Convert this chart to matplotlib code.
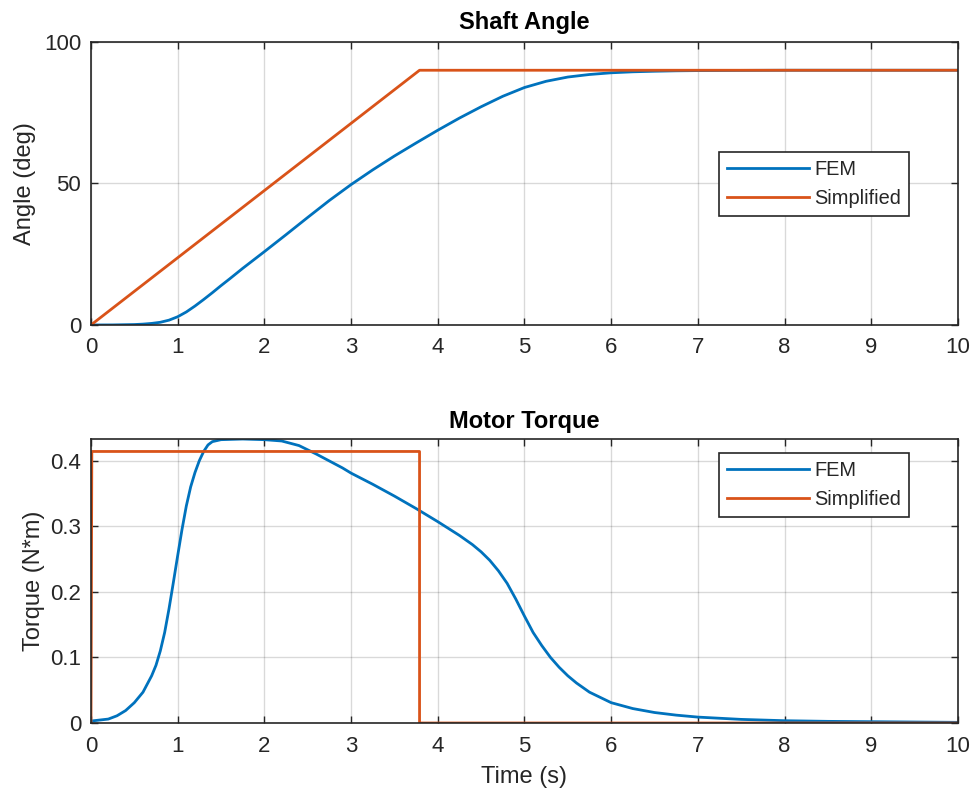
import matplotlib
matplotlib.use("Agg")
import matplotlib.pyplot as plt

# shaft angle (deg)
t_angle_fem = [0, 0.25, 0.5, 0.6, 0.7, 0.8, 0.9, 1.0, 1.1, 1.2, 1.3, 1.4, 1.5,
               1.6, 1.75, 2.0, 2.25, 2.5, 2.75, 3.0, 3.25, 3.5, 3.75, 4.0, 4.25,
               4.5, 4.75, 5.0, 5.25, 5.5, 5.75, 6.0, 6.25, 6.5, 6.75, 7.0, 7.5,
               8.0, 9.0, 10.0]
angle_fem = [0, 0.02, 0.15, 0.3, 0.55, 0.95, 1.7, 2.9, 4.6, 6.7, 9.0, 11.4, 13.9,
             16.3, 20.0, 25.9, 31.9, 38.0, 44.0, 49.6, 54.8, 59.7, 64.3, 68.8, 73.1,
             77.1, 80.8, 83.9, 86.1, 87.6, 88.5, 89.1, 89.45, 89.65, 89.8, 89.88,
             89.95, 90.0, 90.0, 90.0]
t_angle_simp = [0, 3.79, 10]
angle_simp = [0, 90, 90]

# motor torque (N*m)
t_torque_fem = [0, 0.2, 0.3, 0.4, 0.5, 0.6, 0.7, 0.75, 0.8, 0.85, 0.9, 0.95, 1.0,
                1.05, 1.1, 1.15, 1.2, 1.25, 1.3, 1.35, 1.4, 1.5, 1.75, 2.0, 2.2,
                2.4, 2.6, 2.9, 3.0, 3.25, 3.5, 3.75, 4.0, 4.25, 4.4, 4.5, 4.6, 4.7,
                4.8, 4.9, 5.0, 5.1, 5.2, 5.3, 5.4, 5.5, 5.6, 5.75, 6.0, 6.25, 6.5,
                6.75, 7.0, 7.5, 8.0, 8.5, 9.0, 10.0]
torque_fem = [0.003, 0.006, 0.011, 0.019, 0.031, 0.047, 0.072, 0.088, 0.11, 0.138,
              0.174, 0.214, 0.255, 0.295, 0.331, 0.36, 0.382, 0.4, 0.414, 0.424,
              0.429, 0.432, 0.433, 0.432, 0.43, 0.423, 0.41, 0.389, 0.381, 0.364,
              0.346, 0.327, 0.307, 0.286, 0.272, 0.261, 0.248, 0.232, 0.213, 0.189,
              0.163, 0.138, 0.118, 0.1, 0.085, 0.072, 0.061, 0.047, 0.031, 0.022,
              0.016, 0.012, 0.009, 0.0055, 0.0035, 0.0025, 0.002, 0.001]
t_torque_simp = [0, 0.01, 3.79, 3.79, 10]
torque_simp = [0, 0.414, 0.414, 0, 0]

blue = "#0072BD"
orange = "#D95319"
txt = "#262626"

plt.rcParams["font.family"] = ["Liberation Sans", "DejaVu Sans"]

fig = plt.figure(figsize=(9.76, 8.02), dpi=100)
ax1 = fig.add_axes([0.0932, 0.5948, 0.8883, 0.3529])
ax2 = fig.add_axes([0.0932, 0.0985, 0.8883, 0.3541])


def style(ax):
    ax.set_xlim(0, 10)
    ax.set_xticks(range(0, 11))
    ax.grid(True, color="#000000", alpha=0.15, linewidth=1)
    ax.tick_params(direction="in", top=True, right=True, length=5, width=1,
                   colors=txt, labelsize=16, pad=9)
    ax.tick_params(axis="y", pad=7)
    for s in ax.spines.values():
        s.set_color(txt)
        s.set_linewidth(1.2)


ax1.plot(t_angle_fem, angle_fem, color=blue, lw=2, label="FEM")
ax1.plot(t_angle_simp, angle_simp, color=orange, lw=2, label="Simplified")
style(ax1)
ax1.set_ylim(0, 100)
ax1.set_yticks([0, 50, 100])
ax1.set_ylabel("Angle (deg)", fontsize=17, color=txt, labelpad=6)
ax1.set_title("Shaft Angle", fontsize=17, fontweight="bold", color="black", pad=9)

ax2.plot(t_torque_fem, torque_fem, color=blue, lw=2, label="FEM")
ax2.plot(t_torque_simp, torque_simp, color=orange, lw=2, label="Simplified")
style(ax2)
ax2.set_ylim(0, max(torque_fem))
ax2.set_yticks([0, 0.1, 0.2, 0.3, 0.4])
ax2.set_yticklabels(["0", "0.1", "0.2", "0.3", "0.4"])
ax2.set_ylabel("Torque (N*m)", fontsize=17, color=txt, labelpad=4)
ax2.set_xlabel("Time (s)", fontsize=17, color=txt, labelpad=7)
ax2.set_title("Motor Torque", fontsize=17, fontweight="bold", color="black", pad=8)

for ax, anchor in ((ax1, (0.9435, 0.611)), (ax2, (0.9435, 0.951))):
    leg = ax.legend(loc="upper right", bbox_to_anchor=anchor, fontsize=14.4,
                    fancybox=False, framealpha=1, edgecolor=txt,
                    handlelength=4.1, handletextpad=0.25, labelspacing=0.5,
                    borderpad=0.4, borderaxespad=0)
    leg.get_frame().set_linewidth(1.2)
    for t in leg.get_texts():
        t.set_color(txt)

fig.savefig("out.png", dpi=100)
